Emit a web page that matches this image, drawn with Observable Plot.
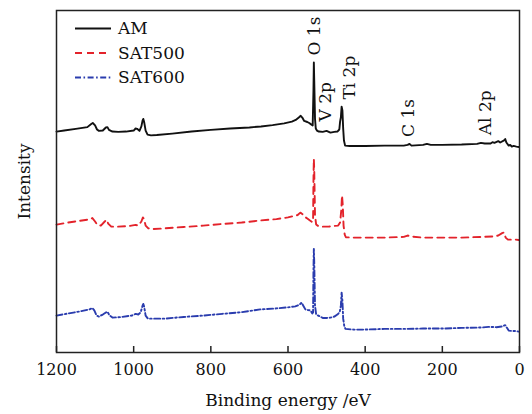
<!DOCTYPE html>
<html>
<head>
<meta charset="utf-8">
<script src="https://cdn.jsdelivr.net/npm/d3@7"></script>
<script src="https://cdn.jsdelivr.net/npm/@observablehq/plot@0.6"></script>
<style>
  html, body { margin: 0; padding: 0; background: #fff; }
  #chart svg { display: block; }
  #chart svg text { font-family: "DejaVu Serif", "Liberation Serif", serif; }
</style>
</head>
<body>
<div id="chart"></div>
<script>
// XPS survey spectra (binding energy in eV, intensity in arbitrary units, curves offset)
const seriesNames = ["AM", "SAT500", "SAT600"];

const amEnergy = [1200,1180,1150,1120,1110,1106,1100,1095,1090,1080,
  1072,1068,1064,1055,1040,1020,1000,995,991,985,
  980,977,975,973,969,964,955,940,900,850,
  800,750,700,670,640,610,590,580,572,567,
  563,558,550,545,540,536,534,533,532,530,
  528,525,520,510,500,490,480,472,467,465,
  463,461,459,457,455,452,440,400,350,300,
  290,285,280,250,240,230,200,150,110,100,
  90,75,70,65,55,50,40,37,34,28,
  24,20,15,8,2];
const amIntensity = [64.6,64.9,65.4,65.9,66.8,67.1,66.4,65.2,64.8,64.9,
  65.8,65.9,65.1,64.6,64.5,64.6,64.9,65.5,65.4,64.8,
  66.1,67.8,68.3,67.5,64.9,63.7,63.5,63.6,64.0,64.6,
  65.1,65.5,65.8,66.1,66.5,67.0,67.5,68.0,68.7,69.2,
  68.7,67.7,67.4,67.1,66.7,66.4,76.6,84.8,79.5,68.4,
  65.5,64.9,64.6,64.5,64.8,64.3,64.5,64.6,65.2,67.5,
  68.7,71.9,70.8,65.5,62.0,60.5,60.4,60.4,60.5,60.5,
  60.7,61.0,60.5,60.7,61.0,60.7,60.7,60.8,61.0,61.3,
  61.1,61.1,61.5,61.3,61.8,61.4,62.0,62.4,61.4,60.5,
  60.7,60.2,60.4,60.2,60.1];

const sat500Energy = [1200,1170,1140,1115,1107,1100,1094,1085,1075,1070,
  1066,1058,1040,1010,995,988,980,976,973,969,
  962,950,920,870,820,770,720,672,630,600,
  585,575,568,563,558,550,543,538,535,534,
  533,532,530,527,522,510,495,480,470,465,
  462,460,458,456,453,450,430,400,350,300,
  290,280,250,200,150,100,70,55,45,40,
  36,30,20,10,2];
const sat500Intensity = [37.4,38.0,38.5,38.9,39.3,38.3,37.3,37.1,38.3,38.8,
  37.7,36.8,36.8,37.0,37.3,37.1,38.3,39.5,39.0,37.1,
  36.3,36.1,36.3,36.7,37.1,37.6,38.0,38.6,39.0,39.5,
  39.9,40.2,40.9,40.5,39.8,39.2,38.6,38.2,38.3,50.3,
  56.6,53.2,40.1,37.4,37.0,36.8,36.8,37.0,37.1,38.0,
  41.5,45.9,43.0,37.1,34.5,33.7,33.6,33.6,33.6,33.8,
  34.2,33.9,33.6,33.6,33.6,33.8,33.9,34.2,34.9,35.1,
  33.6,33.0,33.0,33.0,32.9];

const sat600Energy = [1200,1170,1140,1115,1107,1102,1096,1090,1080,1072,
  1068,1062,1055,1030,1005,995,988,982,977,975,
  973,969,963,950,920,870,820,770,720,672,
  630,600,581,570,565,560,555,548,542,537,
  535,534,533,532,530,527,520,510,500,490,
  480,472,466,463,461,459,457,454,451,430,
  400,350,300,250,200,150,100,80,60,45,
  37,33,28,20,10,2];
const sat600Intensity = [10.8,11.4,12.0,12.6,13.0,12.3,10.8,10.5,11.1,11.7,
  11.9,10.8,10.2,10.4,10.8,11.3,11.1,11.7,13.7,14.2,
  13.5,10.8,9.9,9.9,9.9,10.4,10.8,11.3,11.8,12.6,
  12.9,13.2,13.5,14.0,14.6,13.6,12.6,12.4,12.3,11.4,
  11.7,24.0,30.3,26.3,13.7,11.1,10.7,10.1,10.1,10.2,
  10.5,11.1,11.8,13.7,17.5,15.2,9.9,7.6,6.9,6.7,
  6.7,6.9,6.9,7.0,7.0,7.2,7.3,7.5,7.4,7.6,
  8.0,7.3,6.4,6.3,6.3,6.1];

const xTicks = [1200, 1000, 800, 600, 400, 200, 0];

// Core-level assignments written above the spectra
const peakNames = ["O 1s", "V 2p", "Ti 2p", "C 1s", "Al 2p"];
const peakLabelEnergy = [531, 503, 441, 288, 87];

const colors = {AM: "#111111", SAT500: "#e3232b", SAT600: "#2a3cae"};
const dashes = {AM: null, SAT500: "7,5", SAT600: "6,2.5,1.6,2.5"};

const energies = [amEnergy, sat500Energy, sat600Energy];
const intensities = [amIntensity, sat500Intensity, sat600Intensity];
const spectra = seriesNames.map((name, i) =>
  energies[i].map((e, j) => ({series: name, energy: e, intensity: intensities[i][j]})));

// each label sits just above the highest point of the AM spectrum nearby
const labels = peakNames.map((name, i) => {
  const e = peakLabelEnergy[i];
  const near = spectra[0].filter(d => Math.abs(d.energy - e) <= 25);
  return {name, energy: e, intensity: d3.max(near, d => d.intensity)};
});

const font = "'DejaVu Serif', 'Liberation Serif', serif";

const plot = Plot.plot({
  width: 532,
  height: 414,
  marginLeft: 56,
  marginRight: 13,
  marginTop: 10,
  marginBottom: 62,
  style: {fontFamily: font, fontSize: "16px", color: "#111", background: "#fff"},
  x: {domain: [1200, 0], ticks: xTicks, tickFormat: d => String(d)},
  y: {domain: [0, 100], axis: null},
  marks: [
    ...spectra.map(s => Plot.line(s, {
      x: "energy", y: "intensity",
      stroke: colors[s[0].series],
      strokeWidth: 1.9,
      strokeDasharray: dashes[s[0].series],
      strokeLinejoin: "round"
    })),
    Plot.axisX({ticks: xTicks, tickSize: 0, tickPadding: 11, fontSize: 16, label: null, tickFormat: d => String(d)}),
    Plot.tickX(xTicks, {x: d => d, stroke: "#222", strokeWidth: 1.5, insetTop: 336}),
    Plot.text(labels, {
      x: "energy", y: "intensity", text: "name",
      rotate: -90, textAnchor: "start", dy: -7,
      fontSize: 17, fill: "#111"
    }),
    Plot.text(["Binding energy /eV"], {
      frameAnchor: "bottom", textAnchor: "middle", lineAnchor: "middle",
      dy: 48, fontSize: 17, fill: "#111"
    }),
    Plot.text(["Intensity"], {
      frameAnchor: "left", textAnchor: "middle", lineAnchor: "middle",
      rotate: -90, dx: -32, fontSize: 17, fill: "#111"
    }),
    Plot.frame({stroke: "#222", strokeWidth: 1.5})
  ]
});

// Legend in the upper-left corner of the frame
const legend = d3.select(plot).append("g")
  .attr("text-anchor", "start")
  .style("font-family", font).style("font-size", "17px").attr("fill", "#111");
seriesNames.forEach((name, i) => {
  const y = 28.5 + i * 24.5;
  legend.append("line")
    .attr("x1", 75).attr("x2", 111).attr("y1", y).attr("y2", y)
    .attr("stroke", colors[name]).attr("stroke-width", 1.9)
    .attr("stroke-dasharray", dashes[name]);
  legend.append("text")
    .attr("x", 118).attr("y", y).attr("dy", "0.35em")
    .attr("text-anchor", "start")
    .text(name);
});

document.getElementById("chart").append(plot);
</script>
</body>
</html>
